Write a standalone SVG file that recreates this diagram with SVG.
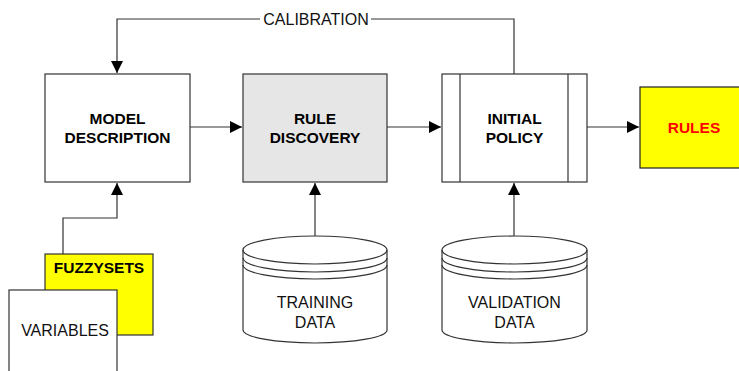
<svg xmlns="http://www.w3.org/2000/svg" width="739" height="371" viewBox="0 0 739 371">
  <style>
    .box { stroke: #333; stroke-width: 1.2; fill: #fff; }
    .wire { stroke: #333; stroke-width: 1.2; fill: none; }
    .bold { font-family: "Liberation Sans", Arial, sans-serif; font-weight: bold; font-size: 15.5px; fill: #000; text-anchor: middle; }
    .plain { font-family: "Liberation Sans", Arial, sans-serif; font-size: 16px; fill: #111; text-anchor: middle; }
  </style>
  <defs>
    <marker id="arrow" markerUnits="userSpaceOnUse" markerWidth="13" markerHeight="12" refX="12" refY="6" orient="auto">
      <path d="M0,0 L12,6 L0,12 Z" fill="#000"/>
    </marker>
  </defs>
  <rect width="739" height="371" fill="#fff"/>

  <!-- connectors -->
  <g id="connectors">
    <path class="wire" d="M514,74 V19 H371"/>
    <path class="wire" d="M260,19 H117 V73" marker-end="url(#arrow)"/>
    <path class="wire" d="M190,127 H242" marker-end="url(#arrow)"/>
    <path class="wire" d="M387,127 H441" marker-end="url(#arrow)"/>
    <path class="wire" d="M587,127 H639" marker-end="url(#arrow)"/>
    <path class="wire" d="M63,254 V218 H117 V183" marker-end="url(#arrow)"/>
    <path class="wire" d="M315,236 V183" marker-end="url(#arrow)"/>
    <path class="wire" d="M514,236 V183" marker-end="url(#arrow)"/>
    <text class="plain" x="316" y="25">CALIBRATION</text>
  </g>

  <!-- process boxes -->
  <g id="model-description">
    <rect class="box" x="45" y="74" width="145" height="108"/>
    <text class="bold" x="117.5" y="124">MODEL</text>
    <text class="bold" x="117.5" y="143">DESCRIPTION</text>
  </g>
  <g id="rule-discovery">
    <rect class="box" x="243" y="74" width="144" height="108" style="fill:#e6e6e6"/>
    <text class="bold" x="315" y="124">RULE</text>
    <text class="bold" x="315" y="143">DISCOVERY</text>
  </g>
  <g id="initial-policy">
    <rect class="box" x="442" y="74" width="145" height="108"/>
    <line class="wire" x1="460" y1="74" x2="460" y2="182"/>
    <line class="wire" x1="568" y1="74" x2="568" y2="182"/>
    <text class="bold" x="514.5" y="124">INITIAL</text>
    <text class="bold" x="514.5" y="143">POLICY</text>
  </g>
  <g id="rules">
    <rect x="640" y="87" width="101" height="81" fill="#ffff00" stroke="#222" stroke-width="1.2"/>
    <text class="bold" x="694" y="133" style="fill:#ff0000">RULES</text>
  </g>

  <!-- documents -->
  <g id="fuzzysets">
    <rect x="45" y="254" width="108" height="81" fill="#ffff00" stroke="#333" stroke-width="1.2"/>
    <text class="bold" x="99" y="273">FUZZYSETS</text>
  </g>
  <g id="variables">
    <rect class="box" x="9" y="290" width="108" height="90"/>
    <text class="plain" x="65" y="336">VARIABLES</text>
  </g>

  <!-- data stores -->
  <g id="training-data">
    <path class="box" d="M243,250 A72,14 0 0 1 387,250 V330 A72,13 0 0 1 243,330 Z"/>
    <path class="wire" d="M243,250 A72,14 0 0 0 387,250 M243,258 A72,14 0 0 0 387,258 M243,265 A72,14 0 0 0 387,265"/>
    <text class="plain" x="315" y="308">TRAINING</text>
    <text class="plain" x="315" y="328">DATA</text>
  </g>
  <g id="validation-data">
    <path class="box" d="M442,250 A72.5,14 0 0 1 587,250 V330 A72.5,13 0 0 1 442,330 Z"/>
    <path class="wire" d="M442,250 A72.5,14 0 0 0 587,250 M442,258 A72.5,14 0 0 0 587,258 M442,265 A72.5,14 0 0 0 587,265"/>
    <text class="plain" x="514.5" y="308">VALIDATION</text>
    <text class="plain" x="514.5" y="328">DATA</text>
  </g>
</svg>
